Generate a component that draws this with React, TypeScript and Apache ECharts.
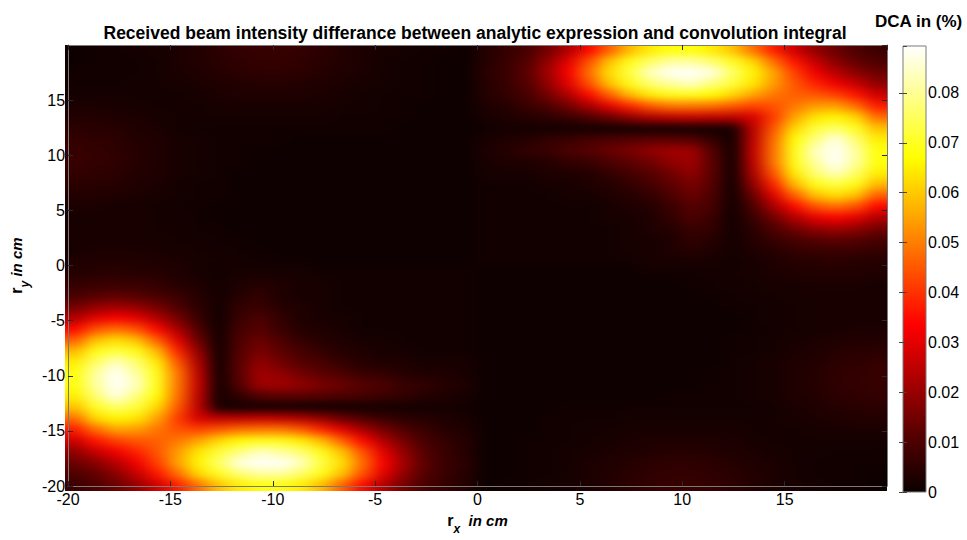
import React, { useEffect, useRef } from 'react';
import * as echarts from 'echarts';

// cell centres (cm) of the r_x / r_y grid
const xCenters = ['-19.5','-18.5','-17.5','-16.5','-15.5','-14.5','-13.5','-12.5','-11.5','-10.5','-9.5','-8.5','-7.5','-6.5','-5.5','-4.5','-3.5','-2.5','-1.5','-0.5','0.5','1.5','2.5','3.5','4.5','5.5','6.5','7.5','8.5','9.5','10.5','11.5','12.5','13.5','14.5','15.5','16.5','17.5','18.5','19.5'];
const yCenters = ['-19.5','-18.5','-17.5','-16.5','-15.5','-14.5','-13.5','-12.5','-11.5','-10.5','-9.5','-8.5','-7.5','-6.5','-5.5','-4.5','-3.5','-2.5','-1.5','-0.5','0.5','1.5','2.5','3.5','4.5','5.5','6.5','7.5','8.5','9.5','10.5','11.5','12.5','13.5','14.5','15.5','16.5','17.5','18.5','19.5'];

const axisMin = -20;
const axisMax = 20;
const axisStep = 5;
const dcaMax = 0.0894;
const dcaStep = 0.01;
const valueUnit = 0.001; // grid values are in thousandths of a percent

// MATLAB "hot" colormap stops
const hotColors = ['#0b0000', '#550000', '#aa0000', '#ff0000', '#ff5500', '#ffaa00', '#ffff00', '#ffff80', '#ffffff'];

// DCA (x0.001 %), rows from r_y = 19.5 (top) down to r_y = 0.5
const rowsTop = [
  [0.5,1,1,1.5,2,2.5,3.5,5,6,6.5,6.5,6,5,3.5,2.5,2,1.5,1,1,0.5, 4,6,9,15,23,34,46,58,65,68,68,65,59,48,37,27,19,14,10,7],
  [0.5,1,1,1,1.5,2.5,3.5,4.5,5.5,6,6,5.5,4.5,3.5,2.5,1.5,1,1,0.5,0.5, 4,7,11,19,30,44,59,69,76,81,81,77,70,62,48,36,26,18,13,10],
  [1,1,1,1,1.5,2.5,3,4,5,5.5,5.5,5,4,3,2.5,1.5,1,1,0.5,0.5, 5,7,12,21,33,48,63,73,84,89,89,87,76,66,55,42,32,24,18,14],
  [1,1,1,1.5,1.5,2,2.5,3,3.5,4,4,3.5,3,2.5,2,1.5,1,1,0.5,0.5, 4,7,11,19,30,44,59,69,77,81,84,78,72,64,54,45,38,32,26,19],
  [1.5,1.5,1.5,1.5,1.5,1.5,2,2.5,3,3,3,3,2.5,2,1.5,1,1,1,0.5,0.5, 4,6,9,15,23,34,46,58,65,69,69,67,62,55,49,46,45,42,36,27],
  [2.5,2.5,2,2,1.5,1.5,1.5,2,2,2,2,2,2,1.5,1.5,1,1,0.5,0.5,0.5, 3,4,7,10,15,22,30,38,45,49,49,48,45,42,44,49,54,55,48,37],
  [3.5,3.5,3,2.5,2,1.5,1.5,1.5,1.5,1.5,1.5,1.5,1.5,1,1,1,1,0.5,0.5,0.5, 2,3,4,5,7,10,14,19,23,25,26,25,25,28,41,55,64,66,62,48],
  [5,4.5,4,3,2.5,1.5,1,1,1,1,1,1,1,1,1,1,0.5,0.5,0.5,0.5, 1,1.5,1.5,1.5,1.5,1.5,1,1,1,1,1,1,2,25,45,62,72,76,70,59],
  [6,5.5,5,3.5,3,2,1.5,1,1,1,1,0.5,0.5,0.5,0.5,0.5,0.5,0.5,0.5,0.5, 2,3,4,6,7,9,10,11,12,12,11,6,1,25,48,67,78,87,77,65],
  [6.5,6,5.5,4,3,2,1.5,1,1,0.5,0.5,0.5,0.5,0.5,0.5,0.5,0.5,0.5,0.5,0.5, 3,4,6,7,10,11,14,16,19,21,21,11,1,26,49,69,84,89,81,68],
  [6.5,6,5.5,4,3,2,1.5,1,1,0.5,0.5,0.5,0.5,0.5,0.5,0.5,0.5,0.5,0.5,0.5, 2,3,3,4,6,7,10,12,15,19,21,12,1,25,49,69,81,89,81,68],
  [6,5.5,5,3.5,3,2,1.5,1,0.5,0.5,0.5,0.5,0.5,0.5,0.5,0.5,0.5,0.5,0.5,0.5, 2,2,2,3,3,4,6,9,11,15,19,12,1,23,45,65,77,84,76,65],
  [5,4.5,4,3,2.5,1.5,1,1,0.5,0.5,0.5,0.5,0.5,0.5,0.5,0.5,0.5,0.5,0.5,0.5, 1,1,1,2,2,3,4,6,9,12,16,11,1,19,38,58,69,73,69,58],
  [3.5,3.5,3,2.5,2,1.5,1,1,0.5,0.5,0.5,0.5,0.5,0.5,0.5,0.5,0.5,0.5,0.5,0.5, 1,1,1,1,2,2,3,4,6,10,14,10,1,14,30,46,59,63,59,46],
  [2.5,2.5,2,2,1.5,1,1,0.5,0.5,0.5,0.5,0.5,0.5,0.5,0.5,0.5,0.5,0.5,0.5,0.5, 1,1,1,1,1,1,2,3,4,7,11,9,1,10,22,34,44,48,44,34],
  [2,2,2,2,1.5,1.5,1,0.5,0.5,0.5,0.5,0.5,0.5,0.5,0.5,0.5,0.5,0.5,0.5,0.5, 1,1,1,1,1,1,2,2,3,6,10,7,1,7,15,23,30,33,30,23],
  [2,2,2,2,1.5,1.5,1,1,0.5,0.5,0.5,0.5,0.5,0.5,0.5,0.5,0.5,0.5,0.5,0.5, 1,1,1,1,1,1,1,2,3,4,7,6,1.5,5,10,15,19,21,19,15],
  [2,2,2,2,2,1.5,1.5,1,1,0.5,0.5,0.5,0.5,0.5,0.5,0.5,0.5,0.5,0.5,0.5, 1,1,1,1,1,1,1,2,2,3,6,4,1.5,4,7,9,11,12,11,9],
  [2,2.5,2.5,2.5,2,2,1.5,1.5,1,1,0.5,0.5,0.5,0.5,0.5,0.5,0.5,0.5,0.5,0.5, 1,1,1,1,1,1,1,2,2,3,4,3,1.5,3,4,6,7,7,7,6],
  [3,3.5,3.5,3.5,3,2.5,2,1.5,1.5,1,1,1,0.5,0.5,0.5,0.5,0.5,0.5,0.5,0.5, 1,1,1,1,1,1,1,1,2,2,2,2,1,2,3,4,4,5,4,4],
];

// DCA (x0.001 %), rows from r_y = -0.5 down to r_y = -19.5 (bottom)
const rowsBottom = [
  [4,4,5,4,4,3,2,1,2,2,2,2,1,1,1,1,1,1,1,1, 0.5,0.5,0.5,0.5,0.5,0.5,0.5,0.5,1,1,1,1.5,1.5,2,2.5,3,3.5,3.5,3.5,3],
  [6,7,7,7,6,4,3,1.5,3,4,3,2,2,1,1,1,1,1,1,1, 0.5,0.5,0.5,0.5,0.5,0.5,0.5,0.5,0.5,0.5,1,1,1.5,1.5,2,2,2.5,2.5,2.5,2],
  [9,11,12,11,9,7,4,1.5,4,6,3,2,2,1,1,1,1,1,1,1, 0.5,0.5,0.5,0.5,0.5,0.5,0.5,0.5,0.5,0.5,0.5,1,1,1.5,1.5,2,2,2,2,2],
  [15,19,21,19,15,10,5,1.5,6,7,4,3,2,1,1,1,1,1,1,1, 0.5,0.5,0.5,0.5,0.5,0.5,0.5,0.5,0.5,0.5,0.5,0.5,1,1,1.5,1.5,2,2,2,2],
  [23,30,33,30,23,15,7,1,7,10,6,3,2,2,1,1,1,1,1,1, 0.5,0.5,0.5,0.5,0.5,0.5,0.5,0.5,0.5,0.5,0.5,0.5,0.5,1,1.5,1.5,2,2,2,2],
  [34,44,48,44,34,22,10,1,9,11,7,4,3,2,1,1,1,1,1,1, 0.5,0.5,0.5,0.5,0.5,0.5,0.5,0.5,0.5,0.5,0.5,0.5,0.5,1,1,1.5,2,2,2.5,2.5],
  [46,59,63,59,46,30,14,1,10,14,10,6,4,3,2,2,1,1,1,1, 0.5,0.5,0.5,0.5,0.5,0.5,0.5,0.5,0.5,0.5,0.5,0.5,1,1,1.5,2,2.5,3,3.5,3.5],
  [58,69,73,69,58,38,19,1,11,16,12,9,6,4,3,2,2,1,1,1, 0.5,0.5,0.5,0.5,0.5,0.5,0.5,0.5,0.5,0.5,0.5,0.5,1,1,1.5,2.5,3,4,4.5,5],
  [65,76,84,77,65,45,23,1,12,19,15,11,9,6,4,3,3,2,2,2, 0.5,0.5,0.5,0.5,0.5,0.5,0.5,0.5,0.5,0.5,0.5,0.5,1,1.5,2,3,3.5,5,5.5,6],
  [68,81,89,81,69,49,25,1,12,21,19,15,12,10,7,6,4,3,3,2, 0.5,0.5,0.5,0.5,0.5,0.5,0.5,0.5,0.5,0.5,0.5,1,1,1.5,2,3,4,5.5,6,6.5],
  [68,81,89,84,69,49,26,1,11,21,21,19,16,14,11,10,7,6,4,3, 0.5,0.5,0.5,0.5,0.5,0.5,0.5,0.5,0.5,0.5,0.5,1,1,1.5,2,3,4,5.5,6,6.5],
  [65,77,87,78,67,48,25,1,6,11,12,12,11,10,9,7,6,4,3,2, 0.5,0.5,0.5,0.5,0.5,0.5,0.5,0.5,0.5,1,1,1,1,1.5,2,3,3.5,5,5.5,6],
  [59,70,76,72,62,45,25,2,1,1,1,1,1,1,1.5,1.5,1.5,1.5,1.5,1, 0.5,0.5,0.5,0.5,1,1,1,1,1,1,1,1,1,1,1.5,2.5,3,4,4.5,5],
  [48,62,66,64,55,41,28,25,25,26,25,23,19,14,10,7,5,4,3,2, 0.5,0.5,0.5,1,1,1,1,1.5,1.5,1.5,1.5,1.5,1.5,1.5,1.5,2,2.5,3,3.5,3.5],
  [37,48,55,54,49,44,42,45,48,49,49,45,38,30,22,15,10,7,4,3, 0.5,0.5,0.5,1,1,1.5,1.5,2,2,2,2,2,2,1.5,1.5,1.5,2,2,2.5,2.5],
  [27,36,42,45,46,49,55,62,67,69,69,65,58,46,34,23,15,9,6,4, 0.5,0.5,1,1,1,1.5,2,2.5,3,3,3,3,2.5,2,1.5,1.5,1.5,1.5,1.5,1.5],
  [19,26,32,38,45,54,64,72,78,84,81,77,69,59,44,30,19,11,7,4, 0.5,0.5,1,1,1.5,2,2.5,3,3.5,4,4,3.5,3,2.5,2,1.5,1.5,1,1,1],
  [14,18,24,32,42,55,66,76,87,89,89,84,73,63,48,33,21,12,7,5, 0.5,0.5,1,1,1.5,2.5,3,4,5,5.5,5.5,5,4,3,2.5,1.5,1,1,1,1],
  [10,13,18,26,36,48,62,70,77,81,81,76,69,59,44,30,19,11,7,4, 0.5,0.5,1,1,1.5,2.5,3.5,4.5,5.5,6,6,5.5,4.5,3.5,2.5,1.5,1,1,1,0.5],
  [7,10,14,19,27,37,48,59,65,68,68,65,58,46,34,23,15,9,6,4, 0.5,1,1,1.5,2,2.5,3.5,5,6,6.5,6.5,6,5,3.5,2.5,2,1.5,1,1,0.5],
];

const titleText = 'Received beam intensity differance between analytic expression and convolution integral';
const colorbarTitle = 'DCA in (%)';

const PLOT = { left: 65, top: 45, width: 822, height: 446 };
const CBAR = { left: 903, top: 46, width: 23, height: 446 };

export default function App() {
  const mainRef = useRef<HTMLDivElement>(null);
  const mapRef = useRef<HTMLDivElement>(null);

  useEffect(() => {
    if (!mainRef.current || !mapRef.current) return;
    const font = '"Liberation Sans", Arial, Helvetica, sans-serif';

    // ---------- heat map layer ----------
    const mapChart = echarts.init(mapRef.current, null, { renderer: 'svg' });
    const allRows = [...rowsTop, ...rowsBottom];
    const data: [number, number, number][] = [];
    allRows.forEach((row, t) => {
      row.forEach((v, i) => {
        data.push([i, allRows.length - 1 - t, +(v * valueUnit).toFixed(5)]);
      });
    });
    mapChart.setOption({
      animation: false,
      grid: { left: 0, top: 0, right: 0, bottom: 0, containLabel: false },
      xAxis: { type: 'category', data: xCenters, show: false },
      yAxis: { type: 'category', data: yCenters, show: false },
      visualMap: {
        type: 'continuous',
        show: false,
        min: 0,
        max: dcaMax,
        seriesIndex: 0,
        inRange: { color: hotColors },
      },
      series: [
        {
          type: 'heatmap',
          data,
          progressive: 0,
          itemStyle: { borderWidth: 0 },
          emphasis: { disabled: true },
        },
      ],
    });

    // ---------- axes, titles, colour bar ----------
    const chart = echarts.init(mainRef.current, null, { renderer: 'svg' });
    const lineColor = '#7a7a7a';
    const tickColor = '#2a2a2a';
    const tickLabel = { color: '#000', fontSize: 16, fontFamily: font };

    const nameRich = {
      r: { fontSize: 16, fontWeight: 'bold', color: '#000', fontFamily: font, lineHeight: 30, verticalAlign: 'middle' },
      s: { fontSize: 12, fontWeight: 'bold', fontStyle: 'italic', color: '#000', fontFamily: font, lineHeight: 14, verticalAlign: 'bottom' },
      i: { fontSize: 15, fontWeight: 'bold', fontStyle: 'italic', color: '#000', fontFamily: font, lineHeight: 30, verticalAlign: 'middle' },
    };

    const mainValueAxis = (pos: string, showLabels: boolean) => ({
      type: 'value',
      gridIndex: 0,
      min: axisMin,
      max: axisMax,
      interval: axisStep,
      position: pos,
      z: 5,
      axisLine: { show: true, onZero: false, lineStyle: { color: lineColor, width: 1 } },
      axisTick: { show: true, inside: true, length: 5, lineStyle: { color: tickColor, width: 1 } },
      axisLabel: { show: showLabels, ...tickLabel, margin: 5, showMaxLabel: false },
      splitLine: { show: false },
    });

    const gradientStops = hotColors
      .slice()
      .reverse()
      .map((c, k, arr) => ({ offset: k / (arr.length - 1), color: c }));

    chart.setOption({
      animation: false,
      textStyle: { fontFamily: font },
      title: [
        {
          text: titleText,
          left: 470,
          top: 19,
          textAlign: 'center',
          textStyle: { fontSize: 17.5, fontWeight: 'bold', color: '#000', fontFamily: font },
        },
        {
          text: colorbarTitle,
          left: 870,
          top: 8,
          textStyle: { fontSize: 17, fontWeight: 'bold', color: '#000', fontFamily: font },
        },
      ],
      grid: [
        { ...PLOT, containLabel: false },
        { ...CBAR, containLabel: false },
      ],
      xAxis: [
        {
          ...mainValueAxis('bottom', true),
          name: '{r|r}{s|x}{i|  in cm}',
          nameLocation: 'middle',
          nameGap: 18,
          nameTextStyle: { rich: nameRich },
        },
        mainValueAxis('top', false),
        { type: 'value', gridIndex: 1, min: 0, max: 1, show: false },
      ],
      yAxis: [
        {
          ...mainValueAxis('left', true),
          axisLabel: { ...tickLabel, margin: 3, showMaxLabel: false },
          name: '{r|r}{s|y}{i| in cm}',
          nameLocation: 'middle',
          nameRotate: 90,
          nameGap: 31,
          nameTextStyle: { rich: nameRich },
        },
        mainValueAxis('right', false),
        {
          type: 'value',
          gridIndex: 1,
          min: 0,
          max: dcaMax,
          interval: dcaStep,
          position: 'right',
          z: 5,
          axisLine: { show: false },
          axisTick: { show: true, inside: true, length: 4, lineStyle: { color: '#444', width: 1 } },
          axisLabel: { ...tickLabel, margin: 2, showMaxLabel: false },
          splitLine: { show: false },
        },
        {
          type: 'value',
          gridIndex: 1,
          min: 0,
          max: dcaMax,
          interval: dcaStep,
          position: 'left',
          z: 5,
          axisLine: { show: false },
          axisTick: { show: true, inside: true, length: 4, lineStyle: { color: '#444', width: 1 } },
          axisLabel: { show: false, showMaxLabel: false },
          splitLine: { show: false },
        },
      ],
      graphic: [
        {
          type: 'rect',
          z: 0,
          shape: { x: CBAR.left, y: CBAR.top, width: CBAR.width, height: CBAR.height },
          style: {
            fill: new echarts.graphic.LinearGradient(0, 0, 0, 1, gradientStops),
            stroke: lineColor,
            lineWidth: 1,
          },
        },
      ],
    });

    return () => {
      chart.dispose();
      mapChart.dispose();
    };
  }, []);

  return (
    <>
      <svg width="0" height="0" style={{ position: 'absolute' }} aria-hidden="true">
        <defs>
          <filter id="hm-smooth" x="0" y="0" width="1" height="1" colorInterpolationFilters="sRGB">
            <feGaussianBlur stdDeviation="8 4.5" />
            <feComponentTransfer>
              <feFuncA type="table" tableValues="1 1" />
            </feComponentTransfer>
          </filter>
        </defs>
      </svg>
      <div
        style={{ position: 'fixed', left: 0, top: 0, width: 967, height: 540, background: '#ffffff' }}
      />
      <div
        ref={mapRef}
        style={{
          position: 'fixed',
          left: PLOT.left,
          top: PLOT.top,
          width: PLOT.width,
          height: PLOT.height,
          filter: 'url(#hm-smooth)',
        }}
      />
      <div
        ref={mainRef}
        style={{ position: 'fixed', left: 0, top: 0, width: 967, height: 540 }}
      />
    </>
  );
}
